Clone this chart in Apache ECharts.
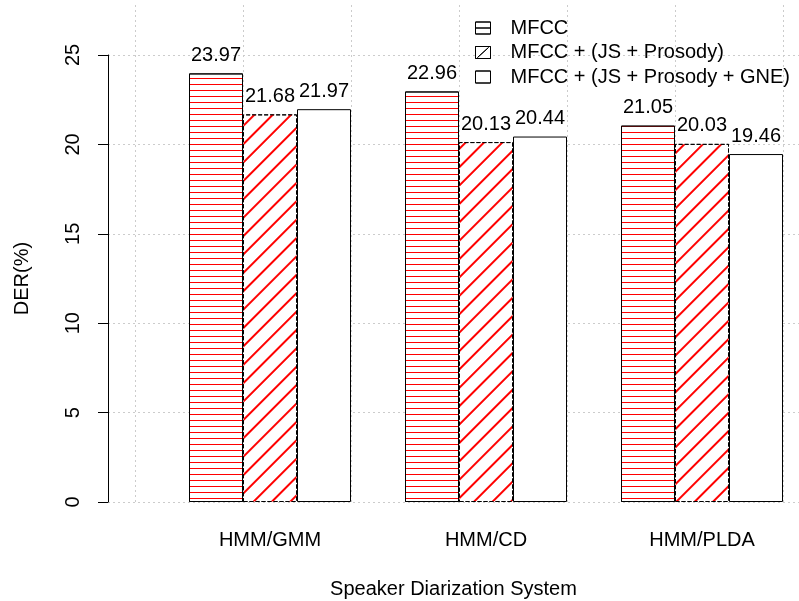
<!DOCTYPE html>
<html>
<head>
<meta charset="utf-8">
<script src="https://cdn.jsdelivr.net/npm/echarts@6/dist/echarts.min.js"></script>
<style>
  html, body { margin: 0; padding: 0; background: #ffffff; }
  #chart { width: 799px; height: 601px; }
</style>
</head>
<body>
<div id="chart"></div>
<script>
// Diarization error rate (%) per system and feature set
const systems = ['HMM/GMM', 'HMM/CD', 'HMM/PLDA'];
const featureSets = ['MFCC', 'MFCC + (JS + Prosody)', 'MFCC + (JS + Prosody + GNE)'];
const derMfcc = [23.97, 22.96, 21.05];
const derJsProsody = [21.68, 20.13, 20.03];
const derJsProsodyGne = [21.97, 20.44, 19.46];
const yTicks = [0, 5, 10, 15, 20, 25];

const FONT = "'Liberation Sans', Arial, Helvetica, sans-serif";
const chart = echarts.init(document.getElementById('chart'), null, { renderer: 'canvas' });

// hatch patterns for the bars
const hatchHorizontal = { symbol: 'rect', symbolSize: 1, color: '#ff0000', dashArrayX: [1, 0], dashArrayY: [1, 5], rotation: 0 };
const hatchDiagonal = { symbol: 'rect', symbolSize: 1, color: '#ff0000', dashArrayX: [1, 0], dashArrayY: [2, 11], rotation: -Math.PI / 4 };
const noHatch = { symbol: 'rect', symbolSize: 1, color: 'rgba(0,0,0,0)', dashArrayX: [1, 0], dashArrayY: [1, 5] };

const seriesValues = [derMfcc, derJsProsody, derJsProsodyGne];
const seriesDecals = [hatchHorizontal, hatchDiagonal, null];
const seriesBorderTypes = ['solid', [4, 2], 'solid'];

// plot area: one group unit (three bars plus a gap) spans 216 px
const PLOT_LEFT = 108;
const PLOT_WIDTH = 691;
const GROUP_PX = 216;
const X_MIN = -0.75;
const X_MAX = X_MIN + PLOT_WIDTH / GROUP_PX;

const barLabel = {
  show: true,
  position: 'top',
  distance: 8,
  fontFamily: FONT,
  fontSize: 20,
  color: '#000',
  formatter: p => p.value[1].toFixed(2)
};

const series = seriesValues.map((vals, k) => {
  const itemStyle = {
    color: '#ffffff',
    borderColor: '#000000',
    borderWidth: 1,
    borderType: seriesBorderTypes[k]
  };
  if (seriesDecals[k]) itemStyle.decal = seriesDecals[k];
  return {
    type: 'bar',
    name: featureSets[k],
    xAxisIndex: 0,
    yAxisIndex: 0,
    barWidth: 54,
    barGap: '0%',
    data: vals.map((v, i) => [i, v]),
    itemStyle,
    label: barLabel,
    emphasis: { disabled: true },
    animation: false
  };
});

const legendIcons = [
  'path://M0,0H15V12H0Z M0,6H15',
  'path://M0,0H15V12H0Z M2,11L13,1',
  'path://M0,0H15V12H0Z'
];

const option = {
  animation: false,
  backgroundColor: '#ffffff',
  textStyle: { fontFamily: FONT },
  legend: {
    orient: 'vertical',
    left: 470,
    top: 13,
    itemWidth: 15,
    itemHeight: 12,
    itemGap: 4.5,
    selectedMode: false,
    textStyle: { fontFamily: FONT, fontSize: 20, color: '#000', padding: [0, 0, 0, 15] },
    data: featureSets.map((name, k) => ({
      name,
      icon: legendIcons[k],
      itemStyle: { color: '#ffffff', borderColor: '#000000', borderWidth: 1, borderType: 'solid', decal: noHatch }
    }))
  },
  grid: [
    { left: PLOT_LEFT, width: PLOT_WIDTH, top: 55, height: 447, containLabel: false, outerBoundsMode: 'none' },
    { left: 135, width: 648, top: 5, height: 497, containLabel: false, outerBoundsMode: 'none' }
  ],
  xAxis: [
    {
      type: 'value',
      gridIndex: 0,
      min: X_MIN,
      max: X_MAX,
      axisLine: { show: false, onZero: false },
      axisTick: { show: false },
      splitLine: { show: false },
      axisLabel: {
        customValues: systems.map((s, i) => i),
        formatter: v => systems[Math.round(v)],
        fontFamily: FONT,
        fontSize: 20,
        color: '#000',
        margin: 28
      },
      name: 'Speaker Diarization System',
      nameLocation: 'middle',
      nameGap: 77,
      nameTextStyle: { fontFamily: FONT, fontSize: 20, color: '#000' }
    },
    {
      type: 'value',
      gridIndex: 1,
      min: 0,
      max: 12,
      interval: 2,
      axisLine: { show: false, onZero: false },
      axisTick: { show: false },
      axisLabel: { show: false },
      splitLine: { show: true, lineStyle: { color: '#cccccc', width: 1, type: [2, 3] } }
    }
  ],
  yAxis: [
    {
      type: 'value',
      gridIndex: 0,
      min: yTicks[0],
      max: yTicks[yTicks.length - 1],
      interval: 5,
      axisLine: { show: true, onZero: false, lineStyle: { color: '#000', width: 1 } },
      axisTick: { show: true, length: 10, lineStyle: { color: '#000', width: 1 } },
      axisLabel: { rotate: 90, fontFamily: FONT, fontSize: 20, color: '#000', margin: 25 },
      splitLine: { show: true, lineStyle: { color: '#cccccc', width: 1, type: [2, 3] } },
      name: 'DER(%)',
      nameLocation: 'middle',
      nameGap: 76,
      nameTextStyle: { fontFamily: FONT, fontSize: 20, color: '#000' }
    },
    {
      type: 'value',
      gridIndex: 1,
      min: 0,
      max: 1,
      show: false
    }
  ],
  series
};

chart.setOption(option);
</script>
</body>
</html>
